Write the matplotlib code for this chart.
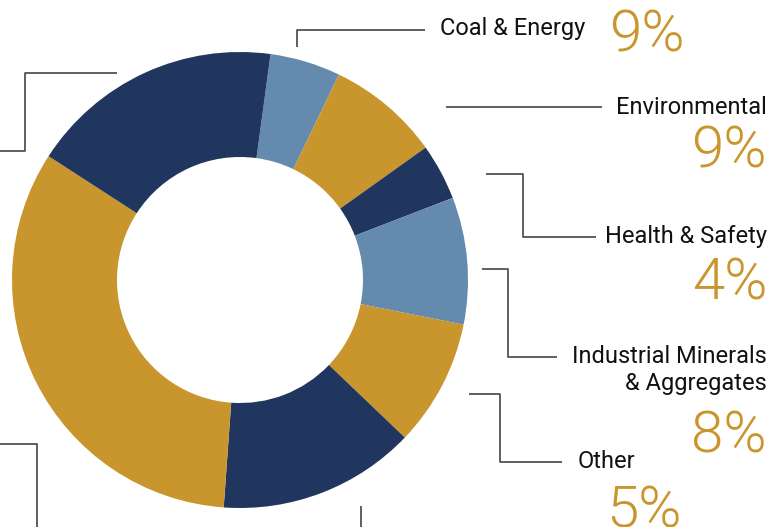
import matplotlib.pyplot as plt

# slices clockwise starting just right of 12 o'clock
slice_values = [5, 8, 4, 9, 9, 14, 33, 18]
slice_colors = ['#648BAE', '#C9952D', '#21365F', '#648BAE',
                '#C9952D', '#21365F', '#C9952D', '#21365F']

label_names = ['Coal & Energy', 'Environmental', 'Health & Safety',
               'Industrial Minerals\n& Aggregates', 'Other']
label_pcts = ['9%', '9%', '4%', '8%', '5%']

W, H = 777, 527
NAVY_TXT = '#111111'
GOLD = '#C9952D'
LINE = '#444444'


def y(v):
    # pixel row (from top) -> axes y
    return H - v


fig = plt.figure(figsize=(W / 100, H / 100), dpi=100)
ax = fig.add_axes([0, 0, 1, 1])

ax.pie(slice_values, colors=slice_colors, startangle=90 - 7.7, counterclock=False,
       center=(240, y(280)), radius=228,
       wedgeprops=dict(width=105, linewidth=0))

ax.set_xlim(0, W)
ax.set_ylim(0, H)
ax.set_aspect('equal')
ax.axis('off')

# leader lines (pixel coords)
leaders = [
    [(297, 47), (297, 30), (425, 30)],
    [(446, 107), (602, 107)],
    [(486, 174), (523, 174), (523, 237), (596, 237)],
    [(482, 269), (508, 269), (508, 357), (557, 357)],
    [(469, 394), (500, 394), (500, 462), (562, 462)],
    [(117, 73), (25, 73), (25, 151), (0, 151)],
    [(0, 444), (37, 444), (37, 527)],
    [(361, 506), (361, 527)],
]
for pts in leaders:
    ax.plot([p[0] for p in pts], [y(p[1]) for p in pts], color=LINE, lw=1.2,
            solid_capstyle='butt')

lab_font = dict(family='Roboto', fontsize=17, color=NAVY_TXT)
pct_font = dict(family='Roboto', fontweight=300, fontsize=42, color=GOLD)

# label positions: (x, y, ha)
name_pos = [(440, 28, 'left'), (767, 107, 'right'), (767, 237, 'right'),
            (767, 370, 'right'), (578, 461, 'left')]
pct_pos = [(609, 36, 'left'), (767, 152, 'right'), (767, 284, 'right'),
           (767, 437, 'right'), (606, 512, 'left')]

for name, (tx, ty, ha) in zip(label_names, name_pos):
    ax.text(tx, y(ty), name, ha=ha, va='center', linespacing=1.2, **lab_font)
for pct, (tx, ty, ha) in zip(label_pcts, pct_pos):
    ax.text(tx, y(ty), pct, ha=ha, va='center', **pct_font)

fig.savefig('out.png', dpi=100)
